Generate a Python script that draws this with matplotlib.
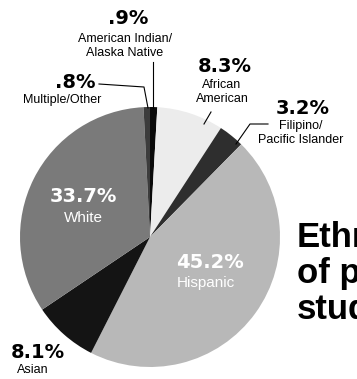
import matplotlib.pyplot as plt

# ethnic groups, clockwise from 12 o'clock
groups = ['American Indian/\nAlaska Native', 'African\nAmerican', 'Filipino/\nPacific Islander',
          'Hispanic', 'Asian', 'White', 'Multiple/Other']
shares = [0.9, 8.3, 3.2, 45.2, 8.1, 33.7, 0.8]
pct_text = ['.9%', '8.3%', '3.2%', '45.2%', '8.1%', '33.7%', '.8%']
shades = ['#0a0a0a', '#ececec', '#2e2e2e', '#b8b8b8', '#141414', '#7a7a7a', '#3c3c3c']
title_lines = ['Ethnicity', 'of public school', 'students']

W, H = 357, 379
fig = plt.figure(figsize=(W / 100, H / 100), dpi=100)
ax = fig.add_axes([0, 0, 1, 1])

def Y(y):  # pixel row from top -> data y
    return H - y

cx, cy, r = 150, 237, 130
ax.pie(shares, colors=shades, startangle=90, counterclock=False,
       center=(cx, Y(cy)), radius=r, frame=True,
       wedgeprops=dict(linewidth=0))
ax.set_xlim(0, W)
ax.set_ylim(0, H)
ax.set_aspect('equal')
ax.axis('off')

sans = ['Liberation Sans', 'DejaVu Sans']
big = dict(fontsize=14, fontweight='bold', ha='center', va='center')
small = dict(fontsize=9, family=sans, ha='center', va='center', linespacing=1.3)

# outside labels
ax.text(128, Y(18), pct_text[0], **big)
ax.text(125, Y(46), groups[0], **small)
ax.plot([153, 153], [Y(62), Y(108)], color='black', lw=0.8)

ax.text(225, Y(67), pct_text[1], **big)
ax.text(222, Y(92), groups[1], **small)
ax.plot([211, 204], [Y(112), Y(124)], color='black', lw=0.8)

ax.text(303, Y(108), pct_text[2], **big)
ax.text(301, Y(133), groups[2], **small)
ax.plot([268, 250, 236], [Y(124), Y(124), Y(144)], color='black', lw=0.8)

ax.text(75, Y(82), pct_text[6], **big)
ax.text(62, Y(100), groups[6], **small)
ax.plot([99, 144, 148], [Y(84), Y(87), Y(108)], color='black', lw=0.8)

ax.text(38, Y(352), pct_text[4], **big)
ax.text(33, Y(370), groups[4], **small)

# inside labels
ax.text(83, Y(197), pct_text[5], color='white', **big)
ax.text(83, Y(218), groups[5], color='white', fontsize=11, family=sans, ha='center', va='center')
ax.text(210, Y(263), pct_text[3], color='white', **big)
ax.text(206, Y(283), groups[3], color='white', fontsize=11, family=sans, ha='center', va='center')

# title (runs off the right edge, as in the source)
for i, line in enumerate(title_lines):
    ax.text(297, Y(247 + 36 * i), line, fontsize=25, fontweight='bold', family=sans,
            ha='left', va='baseline')

fig.savefig('out.png', dpi=100)
